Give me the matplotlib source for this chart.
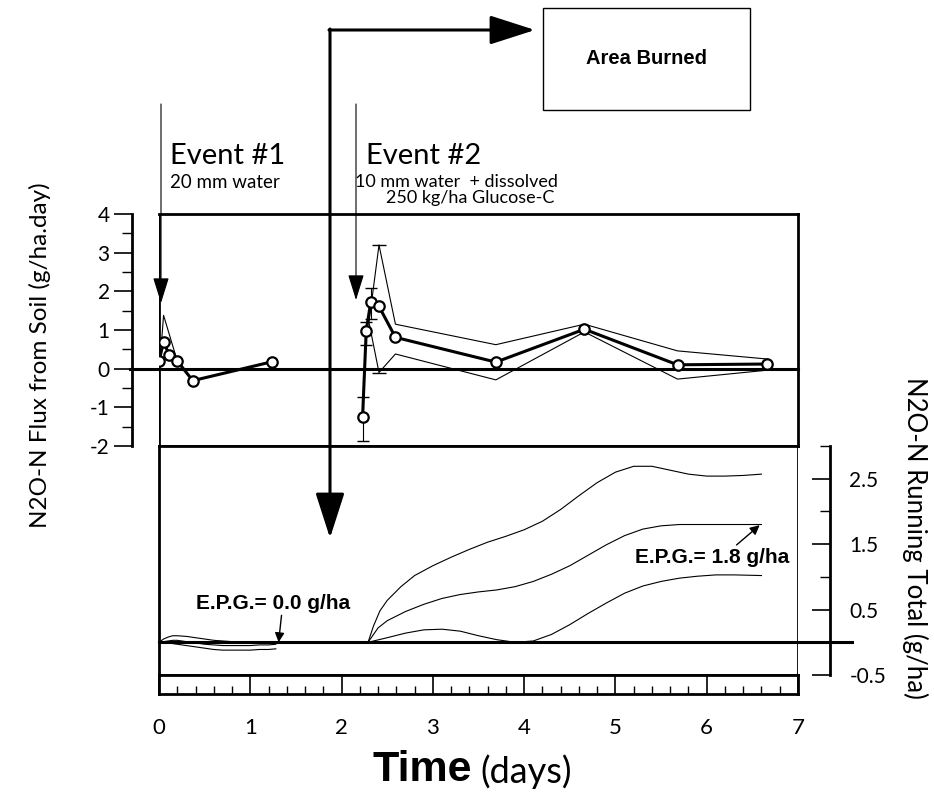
import matplotlib
matplotlib.use("Agg")
import matplotlib.pyplot as plt
from matplotlib.patches import Rectangle
from matplotlib.ticker import FixedLocator, MultipleLocator

# ---- flux from soil (g/ha.day) ----
ev1_day = [0.0, 0.05, 0.11, 0.20, 0.37, 1.24]
ev1_flux = [0.19, 0.70, 0.36, 0.20, -0.31, 0.18]
ev1_env_day = [0.02, 0.05, 0.20]
ev1_env_hi = [0.45, 1.38, 0.20]

ev2_day = [2.23, 2.27, 2.32, 2.41, 2.59, 3.69, 4.66, 5.68, 6.66]
ev2_flux = [-1.26, 0.98, 1.73, 1.61, 0.81, 0.17, 1.02, 0.10, 0.12]
ev2_bar_day = [2.23, 2.27, 2.32]
ev2_bar_mid = [-1.26, 0.98, 1.73]
ev2_bar_lo = [-1.86, 0.62, 1.28]
ev2_bar_hi = [-0.72, 1.21, 2.09]
ev2_env_day = [2.30, 2.41, 2.59, 3.69, 4.66, 5.68, 6.66]
ev2_env_hi = [1.20, 3.20, 1.15, 0.62, 1.15, 0.46, 0.25]
ev2_env_lo = [1.20, -0.10, 0.38, -0.29, 0.95, -0.27, -0.04]

# ---- running totals (g/ha) ----
rt1_day = [0.0, 0.05, 0.1, 0.15, 0.2, 0.3, 0.4, 0.5, 0.6, 0.7, 0.8, 0.9, 1.0, 1.1, 1.2, 1.28]
rt1_a = [0.0, 0.05, 0.08, 0.10, 0.10, 0.09, 0.07, 0.05, 0.03, 0.02, 0.01, 0.0, 0.0, 0.0, 0.0, 0.0]
rt1_b = [0.0, 0.01, 0.02, 0.03, 0.03, 0.01, -0.01, -0.03, -0.04, -0.05, -0.05, -0.05, -0.05, -0.04, -0.04, -0.03]
rt1_c = [0.0, -0.01, -0.01, -0.02, -0.03, -0.05, -0.07, -0.09, -0.11, -0.12, -0.12, -0.12, -0.12, -0.11, -0.11, -0.10]

rt2_up_day = [2.29, 2.35, 2.42, 2.5, 2.65, 2.8, 3.0, 3.2, 3.4, 3.6, 3.8, 4.0, 4.2,
              4.4, 4.6, 4.8, 5.0, 5.2, 5.4, 5.6, 5.8, 6.0, 6.2, 6.4, 6.6]
rt2_up = [0.0, 0.25, 0.48, 0.64, 0.85, 1.02, 1.17, 1.30, 1.42, 1.53, 1.62, 1.72, 1.85,
          2.03, 2.24, 2.44, 2.60, 2.69, 2.69, 2.63, 2.57, 2.54, 2.54, 2.55, 2.57]
rt2_mid_day = [2.29, 2.4, 2.5, 2.7, 2.9, 3.1, 3.3, 3.5, 3.7, 3.9, 4.1, 4.3, 4.5,
               4.7, 4.9, 5.1, 5.3, 5.5, 5.7, 6.0, 6.3, 6.6]
rt2_mid = [0.0, 0.22, 0.33, 0.47, 0.58, 0.67, 0.73, 0.77, 0.80, 0.85, 0.93, 1.04, 1.17,
           1.33, 1.49, 1.63, 1.73, 1.78, 1.80, 1.80, 1.80, 1.80]
rt2_lo_day = [2.29, 2.5, 2.7, 2.9, 3.1, 3.3, 3.5, 3.7, 3.9, 4.1, 4.3, 4.5, 4.7,
              4.9, 5.1, 5.3, 5.5, 5.7, 5.9, 6.1, 6.3, 6.6]
rt2_lo = [0.0, 0.07, 0.14, 0.19, 0.20, 0.17, 0.10, 0.04, 0.0, 0.02, 0.12, 0.27, 0.44,
          0.60, 0.75, 0.86, 0.93, 0.98, 1.01, 1.03, 1.03, 1.02]

flux_ticks = [-2, -1, 0, 1, 2, 3, 4]
total_ticks = [-0.5, 0.5, 1.5, 2.5]
day_ticks = [0, 1, 2, 3, 4, 5, 6, 7]

hand = dict(family=["Lato", "DejaVu Sans"])
bold = dict(family=["Liberation Sans", "DejaVu Sans"], fontweight="bold")

fig = plt.figure(figsize=(9.34, 7.98), dpi=100)
L, W = 159 / 934, (798 - 159) / 934
ax1 = fig.add_axes([L, 1 - 446 / 798, W, 232 / 798])
ax2 = fig.add_axes([L, 1 - 675 / 798, W, 229 / 798])
ax3 = fig.add_axes([L, 1 - 694 / 798, W, 19 / 798])

frame_lw = 2.0
thick = 2.2
thin = 0.8

# ---- top panel: flux ----
ax1.set_xlim(0, 7)
ax1.set_ylim(-2, 4)
for s in ax1.spines.values():
    s.set_linewidth(frame_lw)
ax1.spines["left"].set_position(("outward", 19.5))
ax1.axvline(0, color="k", lw=frame_lw)
ax1.axhline(0, xmin=-0.045, xmax=1, color="k", lw=thick, clip_on=False)
ax1.set_xticks([])
ax1.yaxis.set_major_locator(FixedLocator(flux_ticks))
ax1.yaxis.set_minor_locator(MultipleLocator(0.5))
ax1.set_yticklabels([str(t) for t in flux_ticks])
ax1.tick_params(axis="y", which="major", length=13, width=1.2, pad=3, labelsize=15)
ax1.tick_params(axis="y", which="minor", length=7, width=1.0)
for lab in ax1.get_yticklabels():
    lab.set_fontfamily(hand["family"])

ax1.plot(ev1_env_day, ev1_env_hi, color="k", lw=thin)
ax1.plot(ev1_day, ev1_flux, color="k", lw=thick, marker="o", ms=7.5,
         mfc="white", mec="k", mew=1.6, zorder=4)
ax1.plot(ev2_env_day, ev2_env_hi, color="k", lw=thin)
ax1.plot(ev2_env_day, ev2_env_lo, color="k", lw=thin)
ax1.errorbar(ev2_bar_day, ev2_bar_mid,
             yerr=[[m - lo for m, lo in zip(ev2_bar_mid, ev2_bar_lo)],
                   [hi - m for m, hi in zip(ev2_bar_mid, ev2_bar_hi)]],
             fmt="none", ecolor="k", elinewidth=thin, capsize=4)
ax1.errorbar([ev2_env_day[1]], [ev2_flux[3]],
             yerr=[[ev2_flux[3] - ev2_env_lo[1]], [ev2_env_hi[1] - ev2_flux[3]]],
             fmt="none", ecolor="k", elinewidth=0, capsize=5)
ax1.plot(ev2_day, ev2_flux, color="k", lw=thick, marker="o", ms=7.5,
         mfc="white", mec="k", mew=1.6, zorder=4)

# ---- lower panel: running total ----
ax2.set_xlim(0, 7)
ax2.set_ylim(-0.5, 3.0)
for s in ax2.spines.values():
    s.set_linewidth(frame_lw)
ax2.spines["right"].set_position(("outward", 23))
ax2.axvline(7, color="k", lw=frame_lw)
ax2.axhline(0, xmin=0, xmax=1 + 54 / 639, color="k", lw=thick, clip_on=False)
ax2.set_xticks([])
ax2.yaxis.tick_right()
ax2.yaxis.set_major_locator(FixedLocator(total_ticks))
ax2.yaxis.set_minor_locator(FixedLocator([0, 1, 2, 3]))
ax2.set_yticklabels([str(t) for t in total_ticks])
ax2.tick_params(axis="y", which="major", direction="in", length=13, width=1.2,
                pad=14, labelsize=15)
ax2.tick_params(axis="y", which="minor", direction="in", length=7, width=1.0)
for lab in ax2.get_yticklabels():
    lab.set_fontfamily(hand["family"])

for yv in (rt1_a, rt1_b, rt1_c):
    ax2.plot(rt1_day, yv, color="k", lw=thin)
ax2.plot(rt2_up_day, rt2_up, color="k", lw=thin)
ax2.plot(rt2_mid_day, rt2_mid, color="k", lw=thin)
ax2.plot(rt2_lo_day, rt2_lo, color="k", lw=thin)

ax2.annotate("E.P.G.= 0.0 g/ha", xy=(1.31, 0.0), xytext=(0.4, 0.6),
             textcoords="data", fontsize=15, va="center", **bold,
             arrowprops=dict(arrowstyle="-|>", color="k", lw=1,
                             shrinkA=0, shrinkB=0, mutation_scale=14,
                             relpos=(0.56, 0)))
ax2.annotate("E.P.G.= 1.8 g/ha", xy=(6.58, 1.79), xytext=(5.21, 1.30),
             textcoords="data", fontsize=15, va="center", **bold,
             arrowprops=dict(arrowstyle="-|>", color="k", lw=1,
                             shrinkA=0, shrinkB=0, mutation_scale=14,
                             relpos=(0.64, 1)))

# ---- tick strip ----
ax3.set_xlim(0, 7)
ax3.set_ylim(0, 1)
for s in ax3.spines.values():
    s.set_linewidth(frame_lw)
ax3.set_yticks([])
ax3.xaxis.set_major_locator(FixedLocator(day_ticks))
ax3.xaxis.set_minor_locator(MultipleLocator(0.2))
ax3.set_xticklabels([str(t) for t in day_ticks])
ax3.tick_params(axis="x", which="major", direction="in", length=14, width=1.2,
                pad=17, labelsize=16)
ax3.tick_params(axis="x", which="minor", direction="in", length=6, width=1.0)
for lab in ax3.get_xticklabels():
    lab.set_fontfamily(hand["family"])

# ---- overlay in pixel space for labels and arrows ----
ov = fig.add_axes([0, 0, 1, 1], zorder=5)
ov.set_xlim(0, 934)
ov.set_ylim(798, 0)
ov.axis("off")

ov.add_patch(Rectangle((543, 8), 207, 102, fill=False, lw=1.0, ec="k"))
ov.text(646, 58, "Area Burned", ha="center", va="center", fontsize=14.5, **bold)

big = dict(arrowstyle="-|>,head_length=1.4,head_width=0.45", color="k", lw=2.2,
           shrinkA=0, shrinkB=0, mutation_scale=20)
ov.annotate("", xy=(535, 30), xytext=(329, 30), arrowprops=big)
ov.annotate("", xy=(330, 538), xytext=(330, 29), arrowprops=big)

small = dict(arrowstyle="-|>,head_length=0.8,head_width=0.25", color="k",
             lw=0.8, shrinkA=0, shrinkB=0, mutation_scale=20)
ov.annotate("", xy=(161, 303), xytext=(161, 104), arrowprops=small)
ov.annotate("", xy=(356, 300), xytext=(356, 104), arrowprops=small)

ov.text(170, 156, "Event #1", fontsize=21, va="center", ha="left", **hand)
ov.text(170, 183, "20 mm water", fontsize=13.5, va="center", ha="left", **hand)
ov.text(366, 156, "Event #2", fontsize=21, va="center", ha="left", **hand)
ov.text(355, 182, "10 mm water  + dissolved", fontsize=13, va="center",
        ha="left", **hand)
ov.text(386, 198, "250 kg/ha Glucose-C", fontsize=13, va="center",
        ha="left", **hand)

ov.text(40, 355, "N2O-N Flux from Soil (g/ha.day)", rotation=90, fontsize=17.5,
        ha="center", va="center", **hand)
ov.text(915, 538, "N2O-N Running Total (g/ha)", rotation=270, fontsize=18.5,
        ha="center", va="center", **hand)

ov.text(472, 770, "Time", ha="right", va="center", fontsize=31, **bold)
ov.text(480, 772, "(days)", ha="left", va="center", fontsize=26, **hand)

fig.savefig("out.png", dpi=100)
